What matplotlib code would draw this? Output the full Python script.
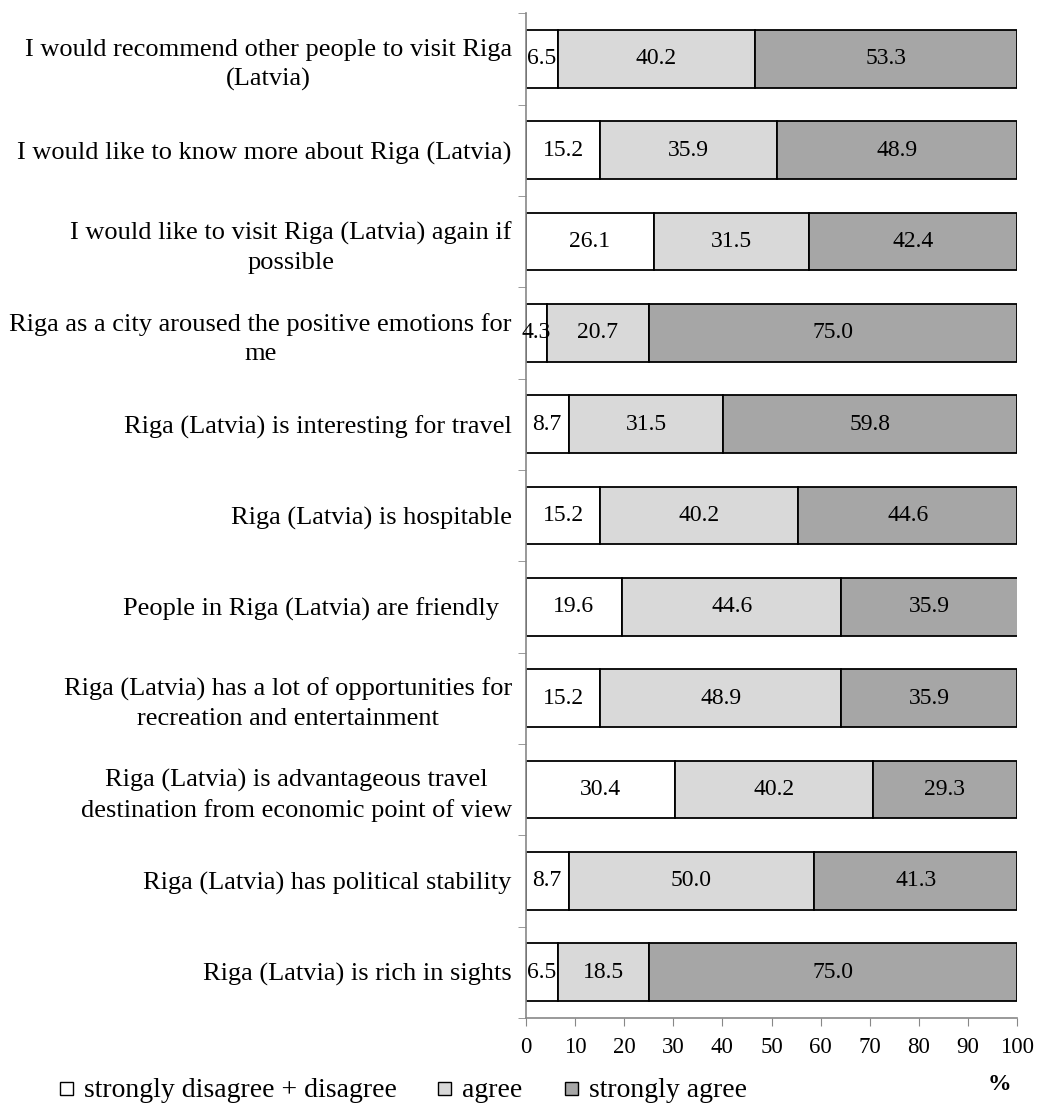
import matplotlib.pyplot as plt
import numpy as np

plt.rcParams['font.family'] = ['Liberation Serif', 'DejaVu Serif']

categories = [
    "I would recommend other people to visit Riga\n(Latvia)",
    "I would like to know more about Riga (Latvia)",
    "I would like to visit Riga (Latvia) again if\npossible",
    "Riga as a city aroused the positive emotions for\nme",
    "Riga (Latvia) is interesting for travel",
    "Riga (Latvia) is hospitable",
    "People in Riga (Latvia) are friendly  ",
    "Riga (Latvia) has a lot of opportunities for\nrecreation and entertainment",
    "Riga (Latvia) is advantageous travel\ndestination from economic point of view",
    "Riga (Latvia) has political stability",
    "Riga (Latvia) is rich in sights",
]
disagree = [6.5, 15.2, 26.1, 4.3, 8.7, 15.2, 19.6, 15.2, 30.4, 8.7, 6.5]
agree = [40.2, 35.9, 31.5, 20.7, 31.5, 40.2, 44.6, 48.9, 40.2, 50.0, 18.5]
strongly = [53.3, 48.9, 42.4, 75.0, 59.8, 44.6, 35.9, 35.9, 29.3, 41.3, 75.0]
series_names = ["strongly disagree + disagree", "agree", "strongly agree"]
colors = ["#ffffff", "#d9d9d9", "#a6a6a6"]

fig = plt.figure(figsize=(10.37, 11.04), dpi=100)
ax = fig.add_axes([0.507, 0.078, 0.474, 0.910])

y = np.arange(len(categories))
left = np.zeros(len(categories))
for vals, col in zip([disagree, agree, strongly], colors):
    ax.barh(y, vals, left=left, height=0.63, color=col,
            edgecolor='black', linewidth=1.3)
    for yi, l, v in zip(y, left, vals):
        ax.text(l + v / 2, yi, f"{v:.1f}", ha='center', va='center', fontsize=17)
    left = left + np.array(vals)

ax.set_xlim(0, 100)
ax.set_ylim(len(categories) - 0.5, -0.5)
ax.set_xticks(np.arange(0, 101, 10))
ax.tick_params(axis='x', labelsize=16.5, direction='out', length=6, color='#888888', pad=8)
ax.set_yticks(y)
ax.set_yticklabels(categories, fontsize=19, multialignment='center', linespacing=1.4)
ax.tick_params(axis='y', length=0, pad=10)
ax.set_yticks(np.arange(-0.5, len(categories)), minor=True)
ax.tick_params(axis='y', which='minor', length=6, color='#888888', direction='out')
for s in ['top', 'right']:
    ax.spines[s].set_visible(False)
for s in ['left', 'bottom']:
    ax.spines[s].set_color('#888888')
    ax.spines[s].set_linewidth(1.2)

# legend drawn by hand, like the original
box_x = [60, 438, 565]
for name, col, bx in zip(series_names, colors, box_x):
    fig.patches.append(plt.Rectangle((bx / 1037, 1 - 1095 / 1104), 13 / 1037, 13 / 1104,
                                     transform=fig.transFigure, facecolor=col,
                                     edgecolor='black', linewidth=1))
    fig.text((bx + 24) / 1037, 1 - 1097 / 1104, name, fontsize=20, va='baseline', ha='left')

fig.text(0.964, 1 - 1084 / 1104, "%", fontsize=17, fontweight='bold', va='center', ha='center')

fig.savefig("out.png", dpi=100)
